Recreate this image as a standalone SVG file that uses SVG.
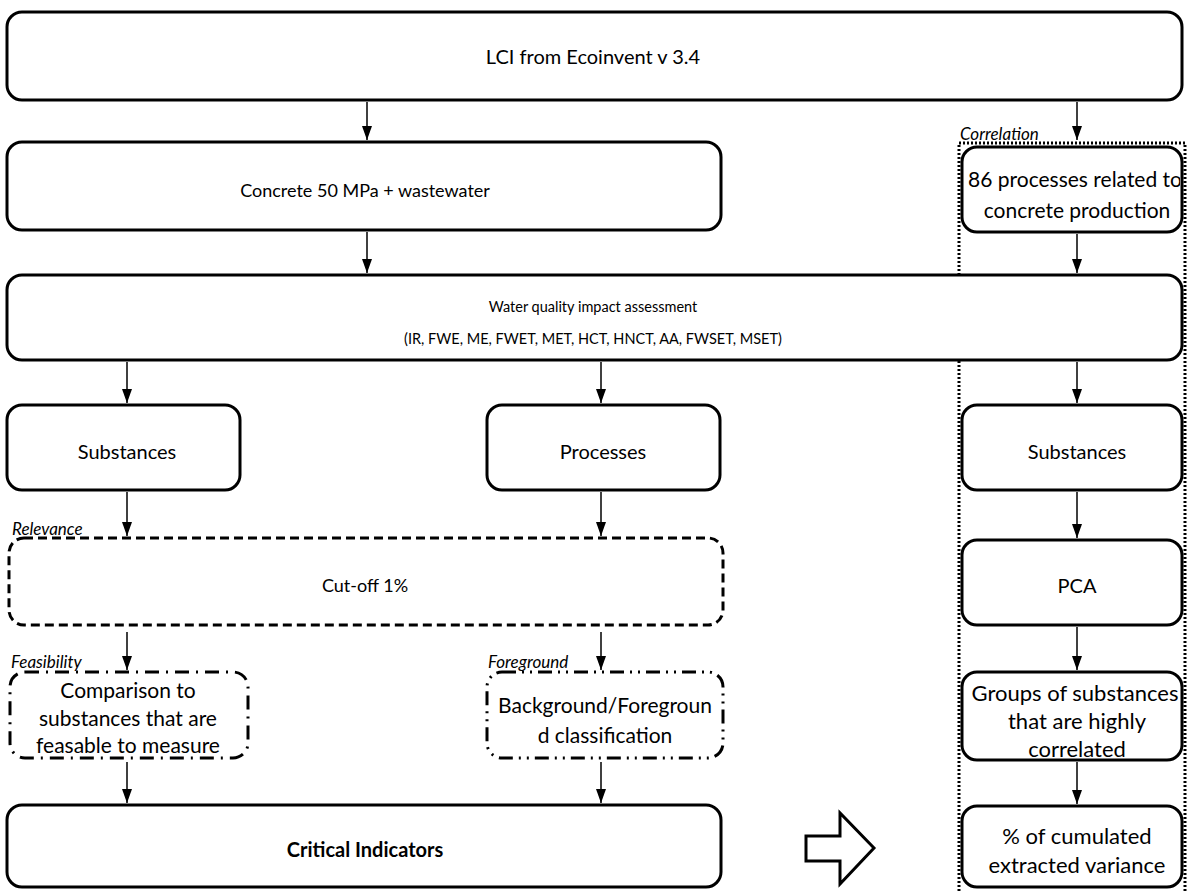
<svg xmlns="http://www.w3.org/2000/svg" width="1187" height="893" viewBox="0 0 1187 893">
  <style>
    .box { fill: #fff; stroke: #000; stroke-width: 3; }
    .dash { stroke-dasharray: 9 5; }
    .dashdot { stroke-dasharray: 14 7 2 7; }
    .dashdotdot { stroke-dasharray: 14 6 2 6 2 6; }
    .frame { fill: none; stroke: #000; stroke-width: 3; stroke-dasharray: 2 2; }
    .t { font-family: Lato, "Liberation Sans", sans-serif; font-size: 17px; fill: #000; text-anchor: middle; }
    .s14 { font-size: 14.5px; }
    .s18 { font-size: 18px; }
    .s20 { font-size: 20px; }
    .s21 { font-size: 21px; }
    .s22 { font-size: 22px; }
    .lbl { font-family: Lato, "Liberation Sans", sans-serif; font-size: 17px; font-style: italic; fill: #000; }
    .b { font-weight: bold; font-size: 20px; }
    .conn line { stroke: #000; stroke-width: 1.5; }
  </style>
  <defs>
    <marker id="ah" markerWidth="14" markerHeight="10" refX="14" refY="5" orient="auto" markerUnits="userSpaceOnUse" viewBox="0 0 14 10">
      <path d="M0,0 L14,5 L0,10 Z" fill="#000"/>
    </marker>
    <clipPath id="clip86">
      <rect x="962" y="147" width="218" height="85"/>
    </clipPath>
  </defs>

  <!-- dotted frame around the correlation branch -->
  <g id="correlation">
    <rect class="frame" x="959" y="143" width="226" height="760"/>
    <text class="lbl" x="960" y="140">Correlation</text>
  </g>

  <g id="lci">
    <rect class="box" x="7" y="12" width="1175" height="88" rx="15"/>
    <text class="t s20" x="593" y="64">LCI from Ecoinvent v 3.4</text>
  </g>

  <g id="concrete">
    <rect class="box" x="7" y="142" width="714" height="88" rx="15"/>
    <text class="t s18" x="365" y="197">Concrete 50 MPa + wastewater</text>
  </g>

  <g id="processes86">
    <rect class="box" x="962" y="147" width="220" height="85" rx="15"/>
    <g clip-path="url(#clip86)">
      <text class="t s21" x="1075" y="187">86 processes related to</text>
      <text class="t s21" x="1077" y="218">concrete production</text>
    </g>
  </g>

  <g id="water">
    <rect class="box" x="7" y="275" width="1175" height="85" rx="15"/>
    <text class="t s14" x="593" y="312">Water quality impact assessment</text>
    <text class="t s14" x="593" y="344">(IR, FWE, ME, FWET, MET, HCT, HNCT, AA, FWSET, MSET)</text>
  </g>

  <g id="substances">
    <rect class="box" x="7" y="405" width="233" height="85" rx="15"/>
    <text class="t s20" x="127" y="459">Substances</text>
  </g>

  <g id="processes">
    <rect class="box" x="487" y="405" width="233" height="85" rx="15"/>
    <text class="t s20" x="603" y="459">Processes</text>
  </g>

  <g id="substances-r">
    <rect class="box" x="962" y="405" width="220" height="85" rx="15"/>
    <text class="t s20" x="1077" y="459">Substances</text>
  </g>

  <g id="cutoff">
    <rect class="box dash" x="9" y="538" width="714" height="87" rx="15"/>
    <text class="t s18" x="365" y="592">Cut-off 1%</text>
    <text class="lbl" x="12" y="535">Relevance</text>
  </g>

  <g id="pca">
    <rect class="box" x="962" y="540" width="220" height="85" rx="15"/>
    <text class="t s20" x="1077" y="593">PCA</text>
  </g>

  <g id="feasibility">
    <rect class="box dashdot" x="10" y="672" width="238" height="86" rx="15"/>
    <text class="lbl" x="11" y="668">Feasibility</text>
    <text class="t s21" x="128" y="698">Comparison to</text>
    <text class="t s21" x="128" y="726">substances that are</text>
    <text class="t s21" x="128" y="753">feasable to measure</text>
  </g>

  <g id="foreground">
    <rect class="box dashdotdot" x="487" y="672" width="236" height="86" rx="15"/>
    <text class="lbl" x="488" y="668">Foreground</text>
    <text class="t s21" x="605" y="713">Background/Foregroun</text>
    <text class="t s21" x="605" y="743">d classification</text>
  </g>

  <g id="groups">
    <rect class="box" x="962" y="672" width="220" height="88" rx="15"/>
    <text class="t s22" x="1075" y="701">Groups of substances</text>
    <text class="t s22" x="1077" y="729">that are highly</text>
    <text class="t s22" x="1077" y="757">correlated</text>
  </g>

  <g id="critical">
    <rect class="box" x="7" y="805" width="714" height="82" rx="15"/>
    <text class="t b" x="365" y="857">Critical Indicators</text>
  </g>

  <g id="variance">
    <rect class="box" x="962" y="806" width="220" height="81" rx="15"/>
    <text class="t s22" x="1077" y="844">% of cumulated</text>
    <text class="t s22" x="1077" y="873">extracted variance</text>
  </g>

  <g id="block-arrow">
    <path class="box" d="M806,836 L840,836 L840,813 L874,848 L840,884 L840,861 L806,861 Z"/>
  </g>

  <g class="conn" id="connectors">
    <line x1="367" y1="102" x2="367" y2="140" marker-end="url(#ah)"/>
    <line x1="1077" y1="102" x2="1077" y2="140" marker-end="url(#ah)"/>
    <line x1="367" y1="232" x2="367" y2="273" marker-end="url(#ah)"/>
    <line x1="1077" y1="234" x2="1077" y2="273" marker-end="url(#ah)"/>
    <line x1="127" y1="362" x2="127" y2="403" marker-end="url(#ah)"/>
    <line x1="601" y1="362" x2="601" y2="403" marker-end="url(#ah)"/>
    <line x1="1077" y1="362" x2="1077" y2="403" marker-end="url(#ah)"/>
    <line x1="127" y1="492" x2="127" y2="536" marker-end="url(#ah)"/>
    <line x1="601" y1="492" x2="601" y2="536" marker-end="url(#ah)"/>
    <line x1="1077" y1="492" x2="1077" y2="538" marker-end="url(#ah)"/>
    <line x1="127" y1="632" x2="127" y2="670" marker-end="url(#ah)"/>
    <line x1="601" y1="632" x2="601" y2="670" marker-end="url(#ah)"/>
    <line x1="1077" y1="627" x2="1077" y2="670" marker-end="url(#ah)"/>
    <line x1="127" y1="762" x2="127" y2="803" marker-end="url(#ah)"/>
    <line x1="601" y1="762" x2="601" y2="803" marker-end="url(#ah)"/>
    <line x1="1077" y1="762" x2="1077" y2="804" marker-end="url(#ah)"/>
  </g>
</svg>
